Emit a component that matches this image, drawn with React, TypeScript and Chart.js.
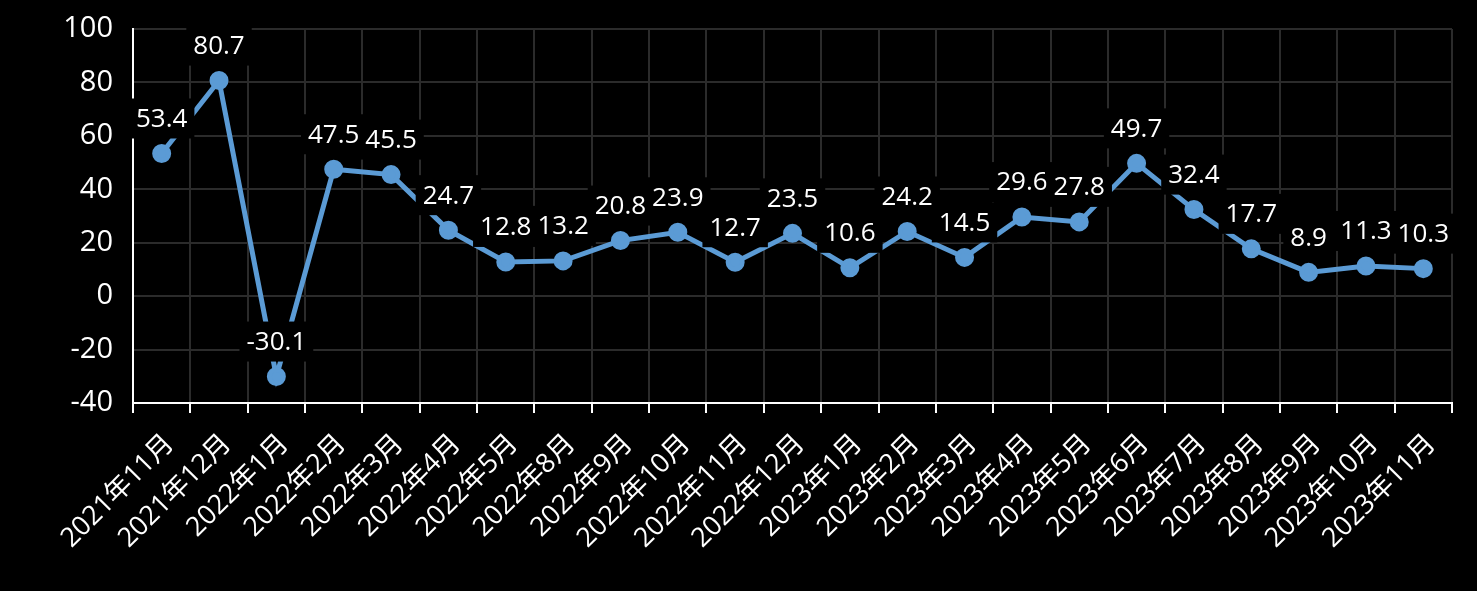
import React, { useEffect, useRef } from "react";
import { Chart, registerables } from "chart.js";

Chart.register(...registerables);

const categories: string[] = [
  "2021年11月", "2021年12月", "2022年1月", "2022年2月", "2022年3月", "2022年4月",
  "2022年5月", "2022年8月", "2022年9月", "2022年10月", "2022年11月", "2022年12月",
  "2023年1月", "2023年2月", "2023年3月", "2023年4月", "2023年5月", "2023年6月",
  "2023年7月", "2023年8月", "2023年9月", "2023年10月", "2023年11月",
];

const values: number[] = [
  53.4, 80.7, -30.1, 47.5, 45.5, 24.7, 12.8, 13.2, 20.8, 23.9, 12.7, 23.5,
  10.6, 24.2, 14.5, 29.6, 27.8, 49.7, 32.4, 17.7, 8.9, 11.3, 10.3,
];

const yMin = -40;
const yMax = 100;
const yStep = 20;

const FONT = "'Open Sans', 'Noto Sans CJK SC', sans-serif";

const labelPlugin = {
  id: "boxLabels",
  afterDatasetsDraw(chart: any) {
    const ctx = chart.ctx;
    const meta = chart.getDatasetMeta(0);
    ctx.save();
    ctx.font = `26px ${FONT}`;
    ctx.textAlign = "center";
    ctx.textBaseline = "middle";
    meta.data.forEach((pt: any, i: number) => {
      const txt = values[i].toFixed(1);
      const cx = pt.x;
      const cy = pt.y - 35;
      const w = ctx.measureText(txt).width + 14;
      const h = 40;
      ctx.fillStyle = "#000000";
      ctx.fillRect(cx - w / 2, cy - h / 2, w, h);
      ctx.fillStyle = "#ffffff";
      ctx.fillText(txt, cx, cy + 1);
    });
    ctx.restore();
  },
};

export default function App() {
  const ref = useRef<HTMLCanvasElement | null>(null);
  useEffect(() => {
    if (!ref.current) return;
    const chart = new Chart(ref.current, {
      type: "line",
      data: {
        labels: categories,
        datasets: [
          {
            data: values,
            borderColor: "#5B9BD5",
            backgroundColor: "#5B9BD5",
            borderWidth: 5,
            pointRadius: 7,
            pointHoverRadius: 7,
            pointBackgroundColor: "#5B9BD5",
            pointBorderColor: "#5B9BD5",
            tension: 0,
          },
        ],
      },
      options: {
        animation: false,
        responsive: false,
        devicePixelRatio: 1,
        layout: { padding: { left: 0, right: 25, top: 29, bottom: 0 } },
        plugins: {
          legend: { display: false },
          tooltip: { enabled: false },
        },
        scales: {
          x: {
            offset: true,
            grid: {
              offset: true,
              color: "#2b2b2b",
              lineWidth: 2,
              drawTicks: true,
              tickLength: 10,
              tickColor: "#ffffff",
              tickWidth: 2,
            },
            border: { color: "#ffffff", width: 2 },
            ticks: {
              color: "#ffffff",
              font: { family: FONT, size: 27 },
              minRotation: 45,
              maxRotation: 45,
              autoSkip: false,
              padding: 15,
              labelOffset: 8,
            },
            afterFit(scale: any) {
              scale.height = 188;
              scale.paddingLeft = 0;
              scale.paddingRight = 0;
            },
          },
          y: {
            min: yMin,
            max: yMax,
            grid: { color: "#2b2b2b", lineWidth: 2, drawTicks: false },
            border: { color: "#ffffff", width: 2 },
            ticks: {
              stepSize: yStep,
              color: "#ffffff",
              font: { family: FONT, size: 29 },
              padding: 20,
            },
            afterFit(scale: any) {
              scale.width = 133;
              scale.paddingTop = 0;
              scale.paddingBottom = 0;
            },
          },
        },
      },
      plugins: [labelPlugin],
    });
    return () => chart.destroy();
  }, []);
  return (
    <div style={{ position: "fixed", left: 0, top: 0, width: 1477, height: 591, background: "#000" }}>
      <canvas ref={ref} width={1477} height={591} />
    </div>
  );
}
